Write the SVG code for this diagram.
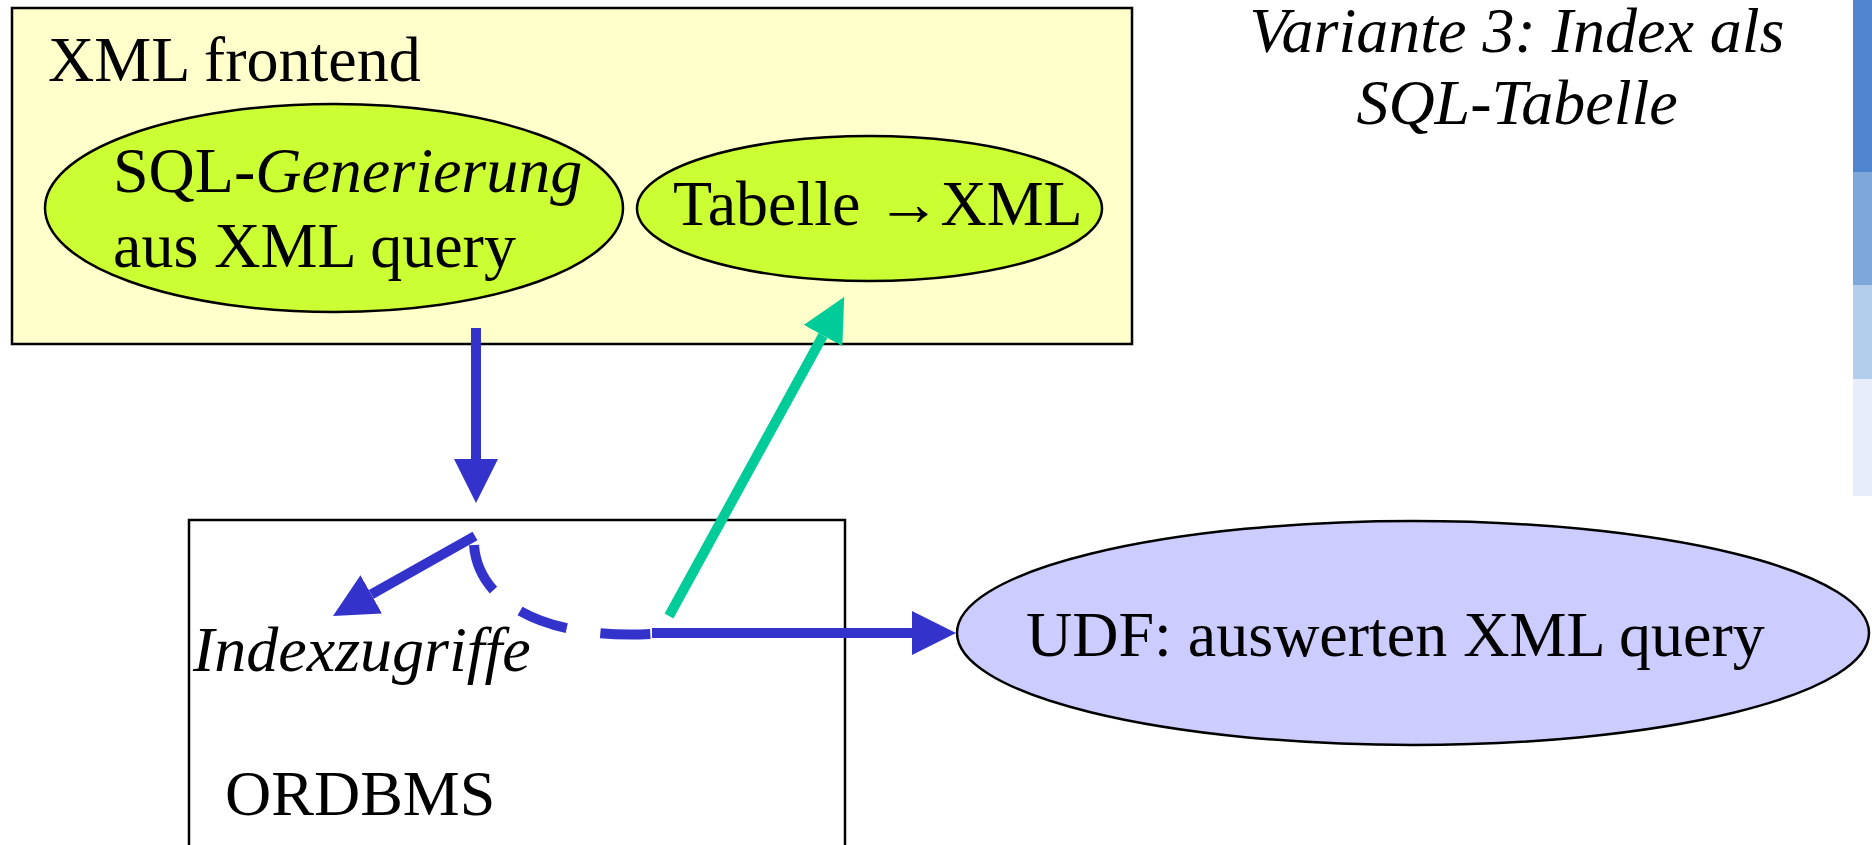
<svg xmlns="http://www.w3.org/2000/svg" width="1872" height="845" viewBox="0 0 1872 845">
<style>
text{font-family:"Liberation Serif","Times New Roman",serif;font-size:64px;fill:#000}
.it{font-style:italic}
.node{stroke:#000;stroke-width:2.5}
.blue{stroke:#3333CC;stroke-width:10;fill:none}
.green{stroke:#00CC99;stroke-width:10;fill:none}
</style>
<defs>
<marker id="ab" viewBox="0 0 44 44" refX="0" refY="22" markerWidth="44" markerHeight="44" markerUnits="userSpaceOnUse" orient="auto"><path d="M0,0L44,22L0,44z" fill="#3333CC"/></marker>
<marker id="ag" viewBox="0 0 44 44" refX="0" refY="22" markerWidth="44" markerHeight="44" markerUnits="userSpaceOnUse" orient="auto"><path d="M0,0L44,22L0,44z" fill="#00CC99"/></marker>
</defs>
<rect x="0" y="0" width="1872" height="845" fill="#fff"/>
<g id="sidebar">
<rect x="1853" y="0" width="19" height="172" fill="#4F86CF"/>
<rect x="1853" y="172" width="19" height="113" fill="#7FA8DA"/>
<rect x="1853" y="285" width="19" height="94" fill="#B3CEEC"/>
<rect x="1853" y="379" width="19" height="117" fill="#E8EEF9"/>
</g>
<g id="title">
<text class="it" x="1517" y="52" text-anchor="middle">Variante 3: Index als</text>
<text class="it" x="1517" y="124" text-anchor="middle">SQL-Tabelle</text>
</g>
<g id="xml-frontend">
<rect class="node" x="12" y="8" width="1120" height="336" fill="#FFFFCC"/>
<text x="48" y="81">XML frontend</text>
</g>
<g id="sql-generierung">
<ellipse class="node" cx="334" cy="208" rx="289" ry="104" fill="#CCFF33" stroke-width="2"/>
<text x="113" y="192">SQL-<tspan class="it">Generierung</tspan></text>
<text x="113" y="267">aus XML query</text>
</g>
<g id="tabelle-xml">
<ellipse class="node" cx="869.5" cy="208.5" rx="232.5" ry="72.5" fill="#CCFF33" stroke-width="2"/>
<text x="673" y="225">Tabelle →XML</text>
</g>
<g id="ordbms">
<rect class="node" x="189" y="520" width="656" height="340" fill="none" stroke-width="2"/>
<text class="it" x="193" y="671">Indexzugriffe</text>
<text x="225" y="815">ORDBMS</text>
</g>
<g id="udf">
<ellipse class="node" cx="1413" cy="633" rx="456" ry="112" fill="#CCCCFF" stroke-width="2"/>
<text x="1026" y="656">UDF: auswerten XML query</text>
</g>
<g id="connectors">
<line class="blue" x1="476" y1="328" x2="476" y2="459" marker-end="url(#ab)"/>
<line class="blue" x1="475" y1="536" x2="371.3" y2="594.4" marker-end="url(#ab)"/>
<path class="blue" d="M474,545 C478,600 540,640 652,634" stroke-dasharray="50 34"/>
<line class="blue" x1="652" y1="633" x2="912" y2="633" marker-end="url(#ab)"/>
<line class="green" x1="669" y1="616" x2="823" y2="335.5" marker-end="url(#ag)"/>
</g>
</svg>
